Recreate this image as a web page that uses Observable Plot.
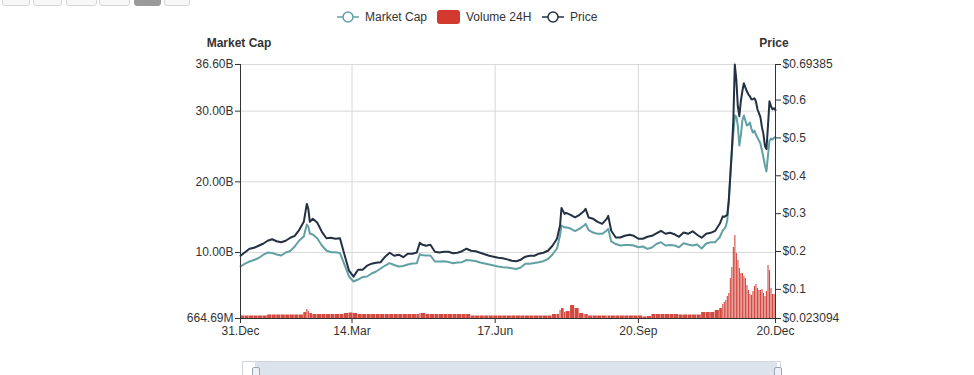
<!DOCTYPE html>
<html><head><meta charset="utf-8">
<script src="https://cdn.jsdelivr.net/npm/d3@7"></script>
<script src="https://cdn.jsdelivr.net/npm/@observablehq/plot@0.6"></script>
<style>
html,body{margin:0;padding:0;background:#fff;}
#wrap{position:relative;width:974px;height:375px;overflow:hidden;font-family:"Liberation Sans",Arial,Helvetica,sans-serif;color:#333;}
#wrap svg.layer{position:absolute;left:0;top:0;}
.btn{position:absolute;top:-18px;height:22px;border:1px solid #d6d6d6;border-radius:3px;background:#f7f7f7;}
.lg{position:absolute;font-size:12px;line-height:14px;color:#333;white-space:nowrap;}
.ttl{position:absolute;top:36px;font-size:12px;font-weight:bold;line-height:14px;color:#333;transform:translateX(-50%);white-space:nowrap;}
</style></head><body>
<div id="wrap">
  <div class="btn" style="left:2px;width:26px"></div>
  <div class="btn" style="left:33px;width:27px"></div>
  <div class="btn" style="left:66px;width:29px"></div>
  <div class="btn" style="left:99px;width:29px"></div>
  <div class="btn" style="left:134px;width:25px;background:#9a9a9a;border-color:#9a9a9a"></div>
  <div class="btn" style="left:164px;width:24px"></div>

  <svg style="position:absolute;left:337px;top:11px" width="22" height="12"><line x1="0" y1="6" x2="22" y2="6" stroke="#62a0a4" stroke-width="1.5"/><circle cx="11" cy="6" r="5" fill="#fff" stroke="#62a0a4" stroke-width="1.5"/></svg>
  <div class="lg" style="left:365px;top:10px">Market Cap</div>
  <div style="position:absolute;left:437px;top:10px;width:23px;height:14px;background:#d2392f;border-radius:3px"></div>
  <div class="lg" style="left:466px;top:10px">Volume 24H</div>
  <svg style="position:absolute;left:542px;top:11px" width="22" height="12"><line x1="0" y1="6" x2="22" y2="6" stroke="#233142" stroke-width="1.5"/><circle cx="11" cy="6" r="5" fill="#fff" stroke="#233142" stroke-width="1.5"/></svg>
  <div class="lg" style="left:570px;top:10px">Price</div>

  <div class="ttl" style="left:239px">Market Cap</div>
  <div class="ttl" style="left:774px">Price</div>

  <div style="position:absolute;left:242px;top:361px;width:537px;height:30px;border:1px solid #cfd6df;background:#fff"></div>
  <div style="position:absolute;left:255px;top:362px;width:522px;height:30px;background:#dce3ec"></div>
  <div style="position:absolute;left:252px;top:367px;width:6px;height:12px;border:1px solid #9aa6b5;background:#eef1f5;border-radius:2px"></div>
  <div style="position:absolute;left:774px;top:367px;width:6px;height:12px;border:1px solid #9aa6b5;background:#eef1f5;border-radius:2px"></div>
</div>
<script>
const dates = ["2019-12-31","2020-01-03","2020-01-06","2020-01-09","2020-01-12","2020-01-15","2020-01-18","2020-01-21","2020-01-24","2020-01-27","2020-01-30","2020-02-02","2020-02-05","2020-02-08","2020-02-11","2020-02-13","2020-02-14","2020-02-15","2020-02-17","2020-02-20","2020-02-23","2020-02-26","2020-02-29","2020-03-03","2020-03-06","2020-03-09","2020-03-12","2020-03-15","2020-03-18","2020-03-21","2020-03-24","2020-03-27","2020-03-30","2020-04-02","2020-04-05","2020-04-08","2020-04-11","2020-04-14","2020-04-17","2020-04-20","2020-04-23","2020-04-26","2020-04-28","2020-04-29","2020-05-02","2020-05-05","2020-05-08","2020-05-11","2020-05-14","2020-05-17","2020-05-20","2020-05-23","2020-05-26","2020-05-29","2020-06-01","2020-06-04","2020-06-07","2020-06-10","2020-06-13","2020-06-16","2020-06-19","2020-06-22","2020-06-25","2020-06-28","2020-07-01","2020-07-04","2020-07-07","2020-07-10","2020-07-13","2020-07-16","2020-07-19","2020-07-22","2020-07-25","2020-07-28","2020-07-30","2020-07-31","2020-08-02","2020-08-03","2020-08-06","2020-08-09","2020-08-12","2020-08-15","2020-08-16","2020-08-18","2020-08-21","2020-08-24","2020-08-27","2020-08-30","2020-08-31","2020-09-02","2020-09-05","2020-09-08","2020-09-11","2020-09-14","2020-09-17","2020-09-20","2020-09-23","2020-09-26","2020-09-29","2020-10-02","2020-10-05","2020-10-08","2020-10-11","2020-10-14","2020-10-17","2020-10-20","2020-10-23","2020-10-26","2020-10-29","2020-11-01","2020-11-04","2020-11-07","2020-11-10","2020-11-13","2020-11-15","2020-11-16","2020-11-17","2020-11-18","2020-11-19","2020-11-20","2020-11-21","2020-11-22","2020-11-23","2020-11-24","2020-11-25","2020-11-26","2020-11-27","2020-11-28","2020-11-29","2020-11-30","2020-12-01","2020-12-02","2020-12-03","2020-12-04","2020-12-05","2020-12-06","2020-12-07","2020-12-08","2020-12-09","2020-12-10","2020-12-11","2020-12-12","2020-12-13","2020-12-14","2020-12-15","2020-12-16","2020-12-17","2020-12-18","2020-12-19","2020-12-20"];

// Price in USD
const price = [0.1889,0.1981,0.2073,0.2099,0.2152,0.2205,0.2284,0.2323,0.2270,0.2244,0.2284,0.2363,0.2415,0.2573,0.2784,0.3257,0.3126,0.2784,0.2863,0.2757,0.2520,0.2349,0.2363,0.2336,0.2349,0.1915,0.1494,0.1336,0.1520,0.1520,0.1626,0.1678,0.1705,0.1718,0.1863,0.1968,0.1889,0.1915,0.1849,0.1942,0.1942,0.1976,0.2231,0.2192,0.2152,0.2178,0.1994,0.1976,0.1994,0.1994,0.1955,0.1968,0.2007,0.2073,0.2020,0.2007,0.1968,0.1928,0.1889,0.1863,0.1836,0.1823,0.1792,0.1757,0.1744,0.1784,0.1863,0.1889,0.1889,0.1942,0.1968,0.2020,0.2152,0.2336,0.2678,0.3152,0.2994,0.3020,0.2968,0.2902,0.2968,0.3073,0.3126,0.2897,0.2863,0.2784,0.2731,0.2863,0.2942,0.2547,0.2370,0.2370,0.2415,0.2442,0.2415,0.2336,0.2336,0.2389,0.2415,0.2481,0.2547,0.2468,0.2494,0.2455,0.2389,0.2502,0.2468,0.2534,0.2442,0.2363,0.2468,0.2494,0.2547,0.2731,0.2928,0.2915,0.2942,0.2968,0.3336,0.3994,0.4652,0.5442,0.69385,0.6547,0.5836,0.5573,0.5968,0.6231,0.6442,0.6336,0.6231,0.6152,0.6099,0.6020,0.6020,0.6047,0.5968,0.5757,0.5652,0.5547,0.5284,0.5099,0.4784,0.4705,0.5310,0.5968,0.5836,0.5757,0.5784,0.5731];

// Market cap in billions USD
const marketCap = [8.02,8.44,8.73,8.94,9.22,9.65,10.00,9.93,9.72,9.58,10.00,10.21,10.85,11.70,12.26,13.96,13.68,12.69,12.55,11.98,10.99,10.28,10.04,10.04,9.93,8.30,6.61,5.90,6.18,6.53,6.61,7.03,7.31,7.74,8.16,8.49,8.23,8.02,8.09,8.30,8.44,8.49,9.79,9.65,9.58,9.58,8.73,8.73,8.77,8.66,8.49,8.59,8.63,8.94,8.87,8.80,8.59,8.44,8.30,8.16,8.02,7.92,7.88,7.78,7.67,7.88,8.40,8.40,8.51,8.63,8.77,9.08,9.72,10.57,12.40,13.82,13.54,13.58,13.39,13.04,13.39,13.82,14.06,13.18,12.83,12.64,12.64,13.11,13.35,11.56,11.20,10.99,11.06,11.06,10.99,10.75,10.85,10.52,10.71,11.20,11.46,10.99,11.06,10.99,10.75,11.32,11.13,10.99,11.13,10.57,11.27,11.46,11.46,12.16,13.11,13.35,13.68,14.53,17.35,20.89,24.14,26.83,29.38,29.24,27.96,25.13,26.55,28.67,29.38,28.67,27.96,28.10,28.39,27.54,26.97,27.26,26.69,26.27,25.84,25.42,24.43,23.44,22.31,21.46,23.72,25.84,26.12,25.98,26.27,26.27];

// Volume 24H in billions USD (read against the Market Cap axis)
const volume = [1.02,1.02,1.02,1.02,1.02,1.02,1.16,1.16,1.16,1.16,1.16,1.16,1.16,1.16,1.51,1.94,1.65,1.37,1.23,1.23,1.23,1.23,1.23,1.23,1.23,1.37,1.44,1.37,1.23,1.23,1.23,1.23,1.23,1.23,1.23,1.23,1.23,1.23,1.23,1.23,1.23,1.23,1.37,1.37,1.23,1.23,1.23,1.23,1.23,1.23,1.23,1.23,1.23,1.23,1.02,1.02,1.02,1.02,1.02,1.02,1.02,1.02,1.02,1.02,1.02,1.02,1.02,1.02,1.02,1.02,1.02,1.02,1.23,1.23,1.80,2.08,1.51,1.65,2.50,2.08,1.37,1.23,1.23,1.02,1.02,1.02,1.02,1.02,1.02,1.02,1.02,1.02,1.02,1.02,1.02,1.02,0.88,0.95,1.23,1.23,1.23,1.23,1.23,1.23,1.16,1.16,1.16,1.16,1.16,1.51,1.51,1.51,1.80,2.08,2.65,2.93,3.21,3.78,4.20,6.32,7.88,10.71,12.40,9.86,8.87,7.74,7.03,7.03,6.61,6.32,5.33,4.63,4.06,3.92,4.48,5.19,5.47,4.91,4.63,4.63,4.77,4.20,3.78,4.48,8.16,7.45,4.91,4.06,4.06,4.34];

const capTicks = [0.66469, 10, 20, 30, 36.60];
const priceTicks = [0.023094, 0.1, 0.2, 0.3, 0.4, 0.5, 0.6, 0.69385];
const dateTicks = ["2019-12-31","2020-03-14","2020-06-17","2020-09-20","2020-12-20"];

const parse = d3.utcParse("%Y-%m-%d");
const D = dates.map(parse);
const xDomain = [D[0], D[D.length - 1]];
const tickDates = dateTicks.map(parse);

const capRows = D.map((d, i) => ({date: d, cap: marketCap[i]}));
const priceRows = D.map((d, i) => ({date: d, price: price[i]}));
const volRows = D.map((d, i) => ({
  x1: d,
  x2: i < D.length - 1 ? D[i + 1] : d3.utcDay.offset(d, 1),
  v: volume[i]
}));

const W = 974, H = 375;
const M = {marginLeft: 240, marginRight: 199, marginTop: 64, marginBottom: 57};
const font = {fontFamily: "'Liberation Sans', Arial, Helvetica, sans-serif", fontSize: "12px", background: "transparent", color: "#333"};

const capFmt = v => v < 1 ? (v * 1000).toFixed(2) + "M" : v.toFixed(2) + "B";

const p1 = Plot.plot({
  width: W, height: H, ...M,
  style: font,
  x: {type: "utc", domain: xDomain},
  y: {domain: [capTicks[0], capTicks[capTicks.length - 1]]},
  marks: [
    Plot.gridY(capTicks, {stroke: "#d9d9d9", strokeOpacity: 1}),
    Plot.gridX(tickDates, {stroke: "#d9d9d9", strokeOpacity: 1}),
    Plot.rectY(volRows, {x1: "x1", x2: "x2", y: "v", fill: "#d4493f", insetRight: 0.4, clip: true}),
    Plot.line(capRows, {x: "date", y: "cap", stroke: "#62a0a4", strokeWidth: 2}),
    Plot.axisY(capTicks, {anchor: "left", tickSize: 5, tickPadding: 2, tickFormat: capFmt, label: null, stroke: "#333", fill: "#333"}),
    Plot.axisX(tickDates, {anchor: "bottom", tickSize: 5, tickPadding: 3, tickFormat: d3.utcFormat("%d.%b"), label: null, stroke: "#333", fill: "#333"}),
    Plot.ruleX([xDomain[0]], {stroke: "#333"}),
    Plot.ruleY([capTicks[0]], {stroke: "#333"})
  ]
});
p1.classList.add("layer");

const p2 = Plot.plot({
  width: W, height: H, ...M,
  style: font,
  x: {type: "utc", domain: xDomain, axis: null},
  y: {domain: [priceTicks[0], priceTicks[priceTicks.length - 1]]},
  marks: [
    Plot.line(priceRows, {x: "date", y: "price", stroke: "#233142", strokeWidth: 2}),
    Plot.axisY(priceTicks, {anchor: "right", tickSize: 5, tickPadding: 2, tickFormat: v => "$" + v, label: null, stroke: "#333", fill: "#333"}),
    Plot.ruleX([xDomain[1]], {stroke: "#333"})
  ]
});
p2.classList.add("layer");

const wrap = document.getElementById("wrap");
const nav = wrap.querySelector("div[style*='top:361px']");
wrap.insertBefore(p1, nav);
wrap.insertBefore(p2, nav);
</script>
</body></html>
